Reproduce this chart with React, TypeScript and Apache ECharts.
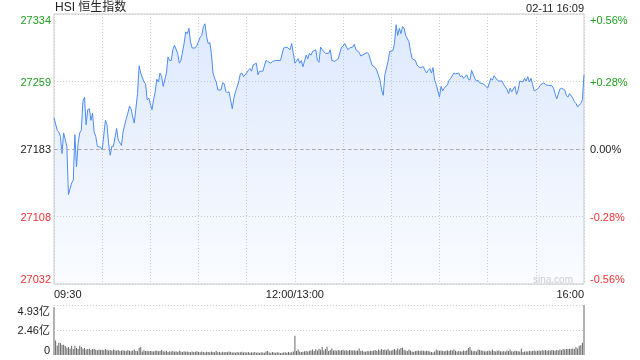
import { useEffect, useRef } from "react";
import * as echarts from "echarts";

const TITLE = "HSI 恒生指数";
const STAMP = "02-11 16:09";
const WATERMARK = "sina.com";
const PREV_CLOSE = 27183;
const RANGE = 151;
const VOL_MAX = 4.93;
const TOTAL_MINUTES = 330;

// trading-minute offset from 09:30 -> label
const timeTicks: [number, string][] = [
  [0, "09:30"],
  [150, "12:00/13:00"],
  [330, "16:00"],
];

// [trading minute since 09:30, index level]
const priceSeries: [number, number][] = [
  [0, 27218], [2, 27204], [3, 27202], [4, 27197], [5, 27178], [6, 27201], [8, 27186], [9, 27132],
  [11, 27145], [12, 27148], [13, 27199], [14, 27163], [15, 27189], [16, 27201], [17, 27204], [18, 27236],
  [19, 27241], [20, 27210], [21, 27227], [22, 27228], [23, 27215], [24, 27223], [25, 27202], [26, 27197],
  [27, 27186], [29, 27185], [30, 27182], [32, 27215], [33, 27210], [34, 27189], [35, 27176], [36, 27186],
  [37, 27186], [39, 27206], [40, 27193], [42, 27187], [43, 27202], [45, 27217], [46, 27223], [47, 27231],
  [48, 27228], [49, 27219], [50, 27212], [52, 27245], [53, 27276], [54, 27268], [56, 27258], [57, 27256],
  [58, 27238], [59, 27240], [61, 27227], [62, 27238], [63, 27247], [64, 27261], [65, 27258], [66, 27268],
  [67, 27264], [68, 27253], [70, 27268], [71, 27286], [72, 27282], [73, 27282], [74, 27294], [75, 27299],
  [77, 27290], [78, 27279], [79, 27282], [81, 27301], [82, 27314], [83, 27312], [84, 27318], [85, 27303],
  [86, 27296], [88, 27296], [89, 27299], [91, 27308], [92, 27310], [93, 27320], [94, 27323], [95, 27309],
  [96, 27301], [97, 27302], [98, 27290], [99, 27268], [100, 27262], [101, 27258], [102, 27249], [104, 27249],
  [105, 27257], [106, 27256], [107, 27247], [108, 27246], [109, 27247], [111, 27228], [112, 27240], [113, 27247],
  [115, 27258], [116, 27267], [117, 27268], [118, 27264], [120, 27268], [121, 27271], [122, 27273], [123, 27270],
  [124, 27277], [126, 27279], [127, 27266], [128, 27270], [130, 27270], [132, 27282], [133, 27281], [135, 27279],
  [136, 27281], [138, 27282], [141, 27282], [143, 27296], [145, 27297], [147, 27294], [148, 27301], [149, 27290],
  [150, 27279], [152, 27284], [153, 27279], [154, 27282], [155, 27275], [157, 27288], [158, 27284], [159, 27290],
  [160, 27288], [161, 27292], [163, 27294], [164, 27282], [165, 27280], [166, 27297], [167, 27294], [169, 27290],
  [171, 27290], [172, 27294], [173, 27282], [175, 27281], [176, 27283], [177, 27284], [179, 27297], [180, 27298],
  [181, 27301], [183, 27294], [184, 27296], [186, 27297], [187, 27300], [188, 27294], [190, 27291], [191, 27287],
  [193, 27289], [195, 27291], [196, 27289], [198, 27277], [200, 27274], [201, 27271], [203, 27260], [204, 27249],
  [205, 27243], [206, 27266], [208, 27281], [209, 27292], [211, 27293], [212, 27301], [213, 27322], [214, 27310],
  [215, 27318], [216, 27312], [217, 27320], [218, 27318], [219, 27310], [221, 27303], [222, 27292], [223, 27284],
  [225, 27282], [226, 27277], [227, 27275], [228, 27274], [230, 27275], [231, 27271], [232, 27268], [233, 27271],
  [234, 27273], [235, 27268], [236, 27274], [237, 27260], [238, 27255], [240, 27241], [241, 27253], [242, 27248],
  [243, 27251], [245, 27255], [246, 27260], [247, 27262], [249, 27268], [250, 27267], [252, 27268], [253, 27264],
  [254, 27265], [255, 27262], [257, 27266], [258, 27261], [259, 27260], [260, 27271], [262, 27262], [263, 27259],
  [264, 27260], [265, 27257], [267, 27256], [268, 27255], [269, 27253], [270, 27251], [272, 27262], [273, 27260],
  [274, 27265], [276, 27260], [277, 27259], [279, 27259], [280, 27255], [282, 27250], [283, 27245], [284, 27251],
  [285, 27247], [287, 27253], [288, 27244], [289, 27249], [290, 27259], [292, 27258], [293, 27262], [294, 27259],
  [295, 27264], [296, 27258], [297, 27262], [298, 27255], [299, 27248], [301, 27250], [302, 27252], [303, 27255],
  [305, 27257], [306, 27255], [308, 27254], [310, 27254], [311, 27251], [312, 27245], [313, 27239], [315, 27250],
  [316, 27251], [318, 27249], [319, 27243], [320, 27241], [321, 27245], [323, 27240], [324, 27236], [325, 27234],
  [326, 27230], [328, 27234], [329, 27238], [330, 27266],
];

// per-minute turnover, 亿 (index = trading minute since 09:30)
const volumes: number[] = [
  4.70, 1.42, 0.93, 1.20, 1.18, 1.00, 1.02, 0.88, 0.72, 0.78, 0.62, 0.90, 0.60, 0.92, 0.68, 0.60, 0.92, 0.80, 0.62, 0.70,
  0.55, 0.58, 0.62, 0.50, 0.58, 0.60, 0.52, 0.48, 0.55, 0.50,
  0.52, 0.48, 0.58, 0.52, 0.45, 0.50, 0.42, 0.55, 0.48, 0.45, 0.50, 0.40, 0.45, 0.48, 0.42, 0.40, 0.50, 0.42, 0.38, 0.45,
  0.55, 0.40, 0.38, 0.72, 0.80, 0.35, 0.48, 0.40, 0.42, 0.38,
  0.40, 0.38, 0.35, 0.42, 0.45, 0.38, 0.40, 0.50, 0.36, 0.35, 0.42, 0.30, 0.38, 0.35, 0.40, 0.32, 0.36, 0.30, 0.42, 0.35,
  0.30, 0.38, 0.32, 0.35, 0.30, 0.28, 0.35, 0.30, 0.32, 0.38,
  0.30, 0.28, 0.35, 0.30, 0.25, 0.32, 0.30, 0.28, 0.35, 0.30, 0.26, 0.40, 0.28, 0.30, 0.25, 0.32, 0.28, 0.30, 0.26, 0.35,
  0.30, 0.25, 0.28, 0.22, 0.30, 0.25, 0.28, 0.32, 0.25, 0.28,
  0.25, 0.30, 0.22, 0.28, 0.25, 0.30, 0.22, 0.26, 0.20, 0.28, 0.25, 0.22, 0.35, 0.40, 0.25, 0.22, 0.30, 0.25, 0.22, 0.28,
  0.25, 0.20, 0.22, 0.25, 0.28, 0.22, 0.30, 0.25, 0.28, 0.35,
  1.90, 0.40, 0.55, 0.35, 0.30, 0.32, 0.38, 0.40, 0.35, 0.42, 0.45, 0.55, 0.40, 0.58, 0.45, 0.62, 0.52, 0.80, 0.45, 0.58,
  0.82, 0.40, 0.50, 0.65, 0.45, 0.48, 0.42, 0.50, 0.45, 0.48,
  0.52, 0.45, 0.48, 0.42, 0.50, 0.46, 0.44, 0.48, 0.42, 0.45, 0.65, 0.40, 0.45, 0.35, 0.32, 0.40, 0.38, 0.42, 0.40, 0.45,
  0.50, 0.42, 0.55, 0.45, 0.58, 0.50, 0.55, 0.48, 0.60, 0.42,
  0.45, 0.50, 0.60, 0.48, 0.65, 0.55, 0.70, 0.72, 0.52, 0.45, 0.40, 0.55, 0.45, 0.35, 0.30, 0.40, 0.42, 0.45, 0.40, 0.45,
  0.42, 0.38, 0.42, 0.40, 0.35, 0.30, 0.25, 0.35, 0.55, 0.45,
  0.42, 0.45, 0.40, 0.38, 0.42, 0.45, 0.40, 0.50, 0.45, 0.55, 0.42, 0.35, 0.40, 0.38, 0.35, 0.45, 0.40, 0.48, 0.70, 0.80,
  0.45, 0.38, 0.40, 0.35, 0.55, 0.50, 0.45, 0.42, 0.38, 0.35,
  0.40, 0.45, 0.38, 0.55, 0.40, 0.35, 0.42, 0.45, 0.38, 0.35, 0.40, 0.35, 0.45, 0.40, 0.55, 0.38, 0.35, 0.42, 0.40, 0.38,
  0.35, 0.65, 0.30, 0.35, 0.38, 0.35, 0.42, 0.38, 0.40, 0.45,
  0.38, 0.42, 0.45, 0.40, 0.48, 0.45, 0.50, 0.42, 0.48, 0.45, 0.50, 0.48, 0.42, 0.50, 0.45, 0.55, 0.48, 0.58, 0.55, 0.60,
  0.58, 0.62, 0.60, 0.65, 0.60, 0.80, 0.65, 0.90, 0.95, 1.20, 4.93,
];

const FONT = 'Arial, "Liberation Sans", "Noto Sans CJK SC", sans-serif';
const UP = "#1f9f1f";
const DOWN = "#ee3333";
const FLAT = "#222";

function signColor(v: any) {
  const n = Number(v);
  if (n > 1e-9) return UP;
  if (n < -1e-9) return DOWN;
  return FLAT;
}

export default function App() {
  const ref = useRef<HTMLDivElement>(null);

  useEffect(() => {
    if (!ref.current) return;
    const chart = echarts.init(ref.current, null, { renderer: "svg" });
    const tickMap = new Map<number, string>(timeTicks);

    const option: any = {
      animation: false,
      textStyle: { fontFamily: FONT },
      grid: [
        { left: 54, top: 14, width: 530, height: 270, show: true, borderColor: "#ccc", borderWidth: 1, backgroundColor: "transparent" },
        { left: 54, top: 305, width: 530, height: 50 },
      ],
      xAxis: [
        {
          type: "value",
          gridIndex: 0,
          min: 0,
          max: TOTAL_MINUTES,
          interval: 30,
          axisLine: { show: false },
          axisTick: { show: false },
          splitLine: { show: true, lineStyle: { color: "#cfcfcf", type: [1, 2], width: 1 } },
          axisLabel: {
            formatter: (v: number) => tickMap.get(Math.round(v)) ?? "",
            color: "#222",
            fontSize: 11,
            margin: 4,
            showMinLabel: true,
            showMaxLabel: true,
            alignMinLabel: "left",
            alignMaxLabel: "right",
          },
        },
        { type: "value", gridIndex: 1, min: 0, max: TOTAL_MINUTES, show: false },
      ],
      yAxis: [
        {
          type: "value",
          gridIndex: 0,
          position: "left",
          min: -RANGE,
          max: RANGE,
          interval: RANGE / 2,
          axisLine: { show: false },
          axisTick: { show: false },
          splitLine: { show: true, lineStyle: { color: "#cfcfcf", type: [1, 2], width: 1 } },
          axisLabel: {
            formatter: (v: number) => String(Math.round(PREV_CLOSE + v)),
            color: signColor,
            fontSize: 11,
            margin: 3,
            showMinLabel: true,
            showMaxLabel: true,
            verticalAlignMinLabel: "bottom",
            verticalAlignMaxLabel: "top",
          },
        },
        {
          type: "value",
          gridIndex: 0,
          position: "right",
          min: -RANGE,
          max: RANGE,
          interval: RANGE / 2,
          axisLine: { show: false },
          axisTick: { show: false },
          splitLine: { show: false },
          axisLabel: {
            formatter: (v: number) => (v > 1e-9 ? "+" : "") + ((v / PREV_CLOSE) * 100).toFixed(2) + "%",
            color: signColor,
            fontSize: 11,
            margin: 6,
            showMinLabel: true,
            showMaxLabel: true,
            verticalAlignMinLabel: "bottom",
            verticalAlignMaxLabel: "top",
          },
        },
        {
          type: "value",
          gridIndex: 1,
          min: 0,
          max: VOL_MAX,
          interval: VOL_MAX / 2,
          axisLine: { show: false },
          axisTick: { show: false },
          splitLine: { show: false },
          axisLabel: {
            formatter: (v: number) => (v === 0 ? "0" : (Math.floor(v * 100 + 1e-6) / 100).toFixed(2) + "亿"),
            color: "#222",
            fontSize: 11,
            margin: 4,
            showMinLabel: true,
            showMaxLabel: true,
            verticalAlignMinLabel: "bottom",
            verticalAlignMaxLabel: "top",
          },
        },
      ],
      series: [
        {
          type: "line",
          xAxisIndex: 0,
          yAxisIndex: 0,
          data: priceSeries.map(([m, p]) => [m, p - PREV_CLOSE]),
          showSymbol: false,
          symbol: "none",
          lineStyle: { color: "#4d8cf5", width: 1 },
          areaStyle: {
            origin: "start",
            color: new echarts.graphic.LinearGradient(0, 0, 0, 1, [
              { offset: 0, color: "rgba(77,140,245,0.27)" },
              { offset: 1, color: "rgba(77,140,245,0.04)" },
            ]),
          },
          markLine: {
            silent: true,
            symbol: ["none", "none"],
            label: { show: false },
            lineStyle: { color: "#aaa", type: [3, 3], width: 1 },
            data: [{ yAxis: 0 }],
          },
          z: 3,
        },
        {
          type: "bar",
          xAxisIndex: 1,
          yAxisIndex: 2,
          data: volumes.map((v, i) => [i, v]),
          barWidth: 1,
          itemStyle: { color: "#666" },
          markLine: {
            silent: true,
            symbol: ["none", "none"],
            label: { show: false },
            lineStyle: { color: "#cfcfcf", type: [1, 2], width: 1 },
            data: [{ yAxis: VOL_MAX }, { yAxis: VOL_MAX / 2 }],
          },
        },
      ],
      graphic: [
        { type: "text", left: 55, top: 1, style: { text: TITLE, fontSize: 12, fill: "#222", fontFamily: FONT } },
        { type: "text", right: 56, top: 2, style: { text: STAMP, fontSize: 11, fill: "#222", fontFamily: FONT } },
        { type: "text", right: 67, top: 274, style: { text: WATERMARK, fontSize: 10, fill: "#cfcfcf", fontFamily: FONT } },
      ],
    };

    chart.setOption(option);
    return () => chart.dispose();
  }, []);

  return <div ref={ref} style={{ position: "fixed", left: 0, top: 0, width: 640, height: 360 }} />;
}
